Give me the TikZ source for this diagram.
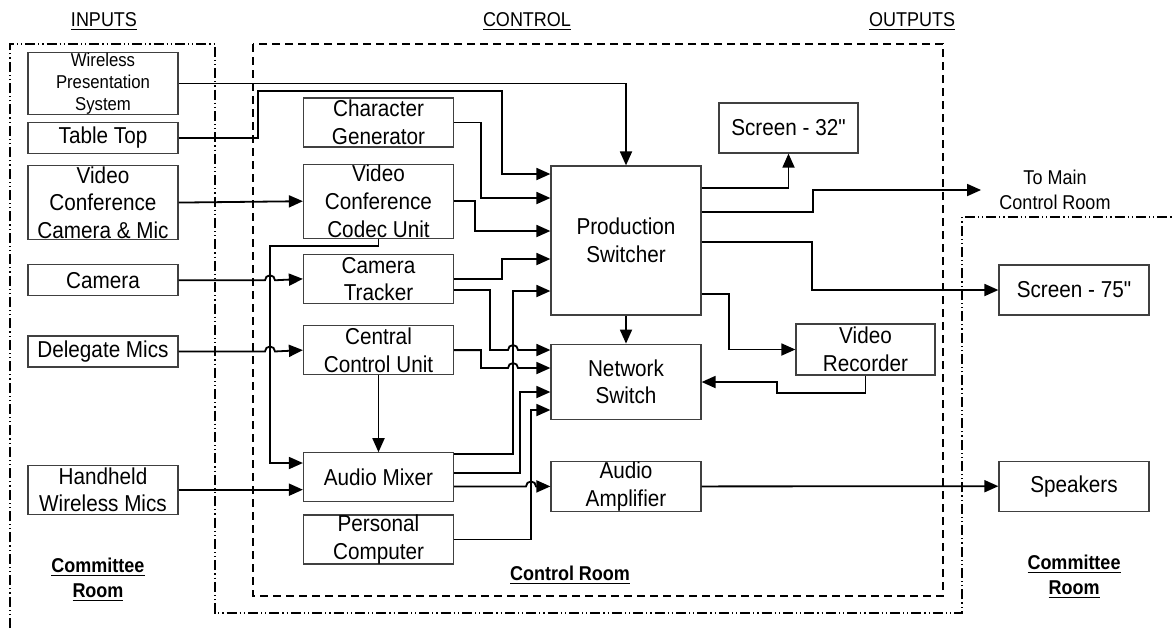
\documentclass[tikz,border=0pt]{standalone}
\usepackage{fontspec}
\setmainfont{Liberation Sans}[FakeStretch=0.9]
\newfontfamily\plainquote{Liberation Sans}[FakeStretch=0.9]
\usetikzlibrary{
    positioning,
    arrows.meta
}

\begin{document}
\begin{tikzpicture}[
        x=0.5pt, y=-0.5pt,
        box/.style={draw=black!75, line width=0.6pt, minimum width=75pt, inner sep=0pt, align=center, font=\fontsize{11.5}{13.8}\selectfont},
        smallbox/.style={box, font=\fontsize{9.3}{11}\selectfont},
        header/.style={align=center, inner sep=0pt, font=\fontsize{10}{12.5}\selectfont},
        roomlabel/.style={align=center, inner sep=0pt, font=\fontsize{10}{12.5}\selectfont\bfseries},
        conn/.style={line width=0.9pt, -{Triangle[length=7pt, width=6pt]}},
        ctrlframe/.style={line width=0.6pt, dash pattern=on 4pt off 2.5pt},
        roomframe/.style={line width=0.6pt, dash pattern=on 5pt off 1.5pt on 0.6pt off 1.5pt on 0.6pt off 1.5pt}
      ]
      \useasboundingbox (0,0) rectangle (1173,628);

      \node[header] (inputs) at (104,22) {\underline{INPUTS}};
      \node[header] (control) at (527,22) {\underline{CONTROL}};
      \node[header] (outputs) at (912,22) {\underline{OUTPUTS}};

      \draw[roomframe] (10,628) -- (10,44) -- (215,44) -- (215,613) -- (962,613) -- (962,217) -- (1173,217);
      \draw[ctrlframe] (253,44) rectangle (943,596);

      \node[smallbox, minimum height=30.5pt] (wps) at (103,83.5) {Wireless\\Presentation\\System};
      \node[box, minimum height=15.5pt, below=3.5pt of wps] (tabletop) {Table Top};
      \node[box, minimum height=37pt, below=5.5pt of tabletop] (vccam) {Video\\Conference\\Camera \& Mic};
      \node[box, minimum height=15.5pt, below=12pt of vccam] (camera) {Camera};
      \node[box, minimum height=15.5pt, below=19.5pt of camera] (delegate) {Delegate Mics};
      \node[box, minimum height=24.5pt, below=48.5pt of delegate] (handheld) {Handheld\\Wireless Mics};

      \node[box, minimum height=24.5pt] (chargen) at (378.5,122.5) {Character\\Generator};
      \node[box, minimum height=37pt, below=8pt of chargen] (codec) {Video\\Conference\\Codec Unit};
      \node[box, minimum height=24.5pt, below=7.5pt of codec] (tracker) {Camera\\Tracker};
      \node[box, minimum height=24.5pt, below=10.5pt of tracker] (ccu) {Central\\Control Unit};
      \node[box, minimum height=24.5pt, below=38.5pt of ccu] (mixer) {Audio Mixer};
      \node[box, minimum height=24.5pt, below=6pt of mixer] (pc) {Personal\\Computer};

      \node[box, minimum height=74.5pt] (ps) at (626,240.5) {Production\\Switcher};
      \node[box, minimum height=37.5pt, below=14pt of ps] (ns) {Network\\Switch};
      \node[box, minimum height=25pt, below=20.5pt of ns] (amp) {Audio\\Amplifier};

      \node[box, minimum width=69.5pt, minimum height=25pt] (screen32) at (788.5,128) {Screen - 32{\plainquote\symbol{34}}};
      \node[box, minimum width=69.5pt, minimum height=25.5pt] (vrec) at (865.5,349.5) {Video\\Recorder};
      \node[header] (tomain) at (1055,190) {To Main\\Control Room};
      \node[box, minimum height=25pt] (screen75) at (1074,290) {Screen - 75{\plainquote\symbol{34}}};
      \node[box, minimum height=25pt, below=72.5pt of screen75] (speakers) {Speakers};

      \node[roomlabel] (leftroom) at (98,580) {\underline{Committee}\\\underline{Room}};
      \node[roomlabel] (ctrlroom) at (570,575) {\underline{Control Room}};
      \node[roomlabel] (rightroom) at (1074,577) {\underline{Committee}\\\underline{Room}};

      \draw[conn] (wps.east) -| (ps.north);
      \draw[conn] (tabletop.east) -| (258,91) -| (502,174) -- (ps.west |- 0,174);
      \draw[conn] (chargen.east) -| (481,198) -- (ps.west |- 0,198);
      \draw[conn] (codec.east) -| (475,231) -- (ps.west |- 0,231);
      \draw[conn] (vccam.east) -- (codec.west);
      \draw[conn] (camera.east) -- (camera.east -| 265,0) arc[start angle=180, end angle=0, radius=2.5pt] -- (tracker.west);
      \draw[conn] (delegate.east) -- (delegate.east -| 265,0) arc[start angle=180, end angle=0, radius=2.5pt] -- (ccu.west);
      \draw[conn] (handheld.east) -- (handheld.east -| mixer.west);
      \draw[conn] (codec.south) |- (270,246) |- (mixer.west |- 0,463);
      \draw[conn] (ccu.south) -- (mixer.north);
      \draw[conn] (tracker.east) -| (502,259) -- (ps.west |- 0,259);
      \draw[conn] (tracker.east |- 0,290) -| (490,350) -- (508,350) arc[start angle=180, end angle=0, radius=2.5pt] -- (ns.west |- 0,350);
      \draw[conn] (ccu.east) -| (481,368) -- (508,368) arc[start angle=180, end angle=0, radius=2.5pt] -- (ns.west |- 0,368);
      \draw[conn] (mixer.east |- 0,454) -| (513,291) -- (ps.west |- 0,291);
      \draw[conn] (mixer.east |- 0,473) -| (520,392) -- (ns.west |- 0,392);
      \draw[conn] (mixer.east |- amp.west) -- (526,0 |- amp.west) arc[start angle=180, end angle=0, radius=2.5pt] -- (amp.west);
      \draw[conn] (pc.east) -| (531,410) -- (ns.west |- 0,410);
      \draw[conn] (ps.south) -- (ns.north);
      \draw[conn] (ps.east |- 0,188) -| (screen32.south);
      \draw[conn] (ps.east |- 0,212) -- (813,212) |- ([xshift=-9pt]tomain.west);
      \draw[conn] (ps.east |- 0,242) -- (812,242) |- (screen75.west);
      \draw[conn] (ps.east |- 0,294) -- (729,294) |- (vrec.west);
      \draw[conn] (vrec.south) |- (777,393) |- (ns.east |- 0,382);
      \draw[conn] (amp.east) -- (speakers.west);
    \end{tikzpicture}
\end{document}
